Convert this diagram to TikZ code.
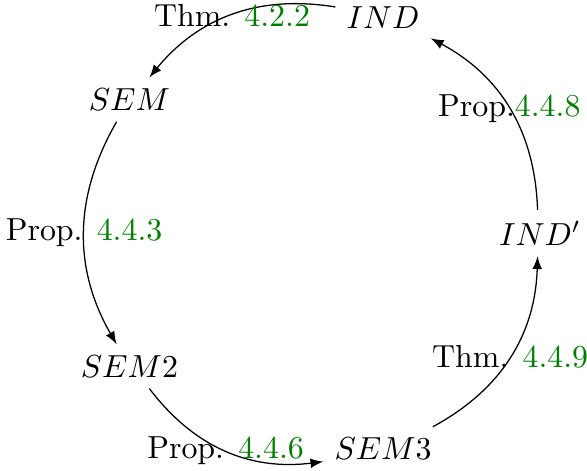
\documentclass[tikz,border=0pt]{standalone}
\usepackage{xcolor}
\definecolor{refgreen}{rgb}{0,0.5,0}
\newcommand\grnref[1]{\textcolor{refgreen}{#1}}
\begin{document}
\begin{tikzpicture}[x=0.3135pt,y=-0.3135pt,>=latex,
  link/.style={->,line width=0.4pt}]
\useasboundingbox (0,0) rectangle (587,470);
\node (ind)  at (383.1,17.1)  {$IND$};
\node (sem)  at (129.4,99.6)  {$SEM$};
\node (sem2) at (129.4,366.4) {$SEM2$};
\node (sem3) at (383.1,448.9) {$SEM3$};
\node (indp) at (540,233)     {$IND'$};
\draw[link] (ind)  to[bend right] node {Thm. \grnref{4.2.2}} (sem);
\draw[link] (sem)  to[bend right] node {Prop. \grnref{4.4.3}} (sem2);
\draw[link] (sem2) to[bend right] node {Prop. \grnref{4.4.6}} (sem3);
\draw[link] (sem3) to[bend right] node {Thm. \grnref{4.4.9}} (indp);
\draw[link] (indp) to[bend right] node {Prop.\grnref{4.4.8}} (ind);
\end{tikzpicture}
\end{document}
